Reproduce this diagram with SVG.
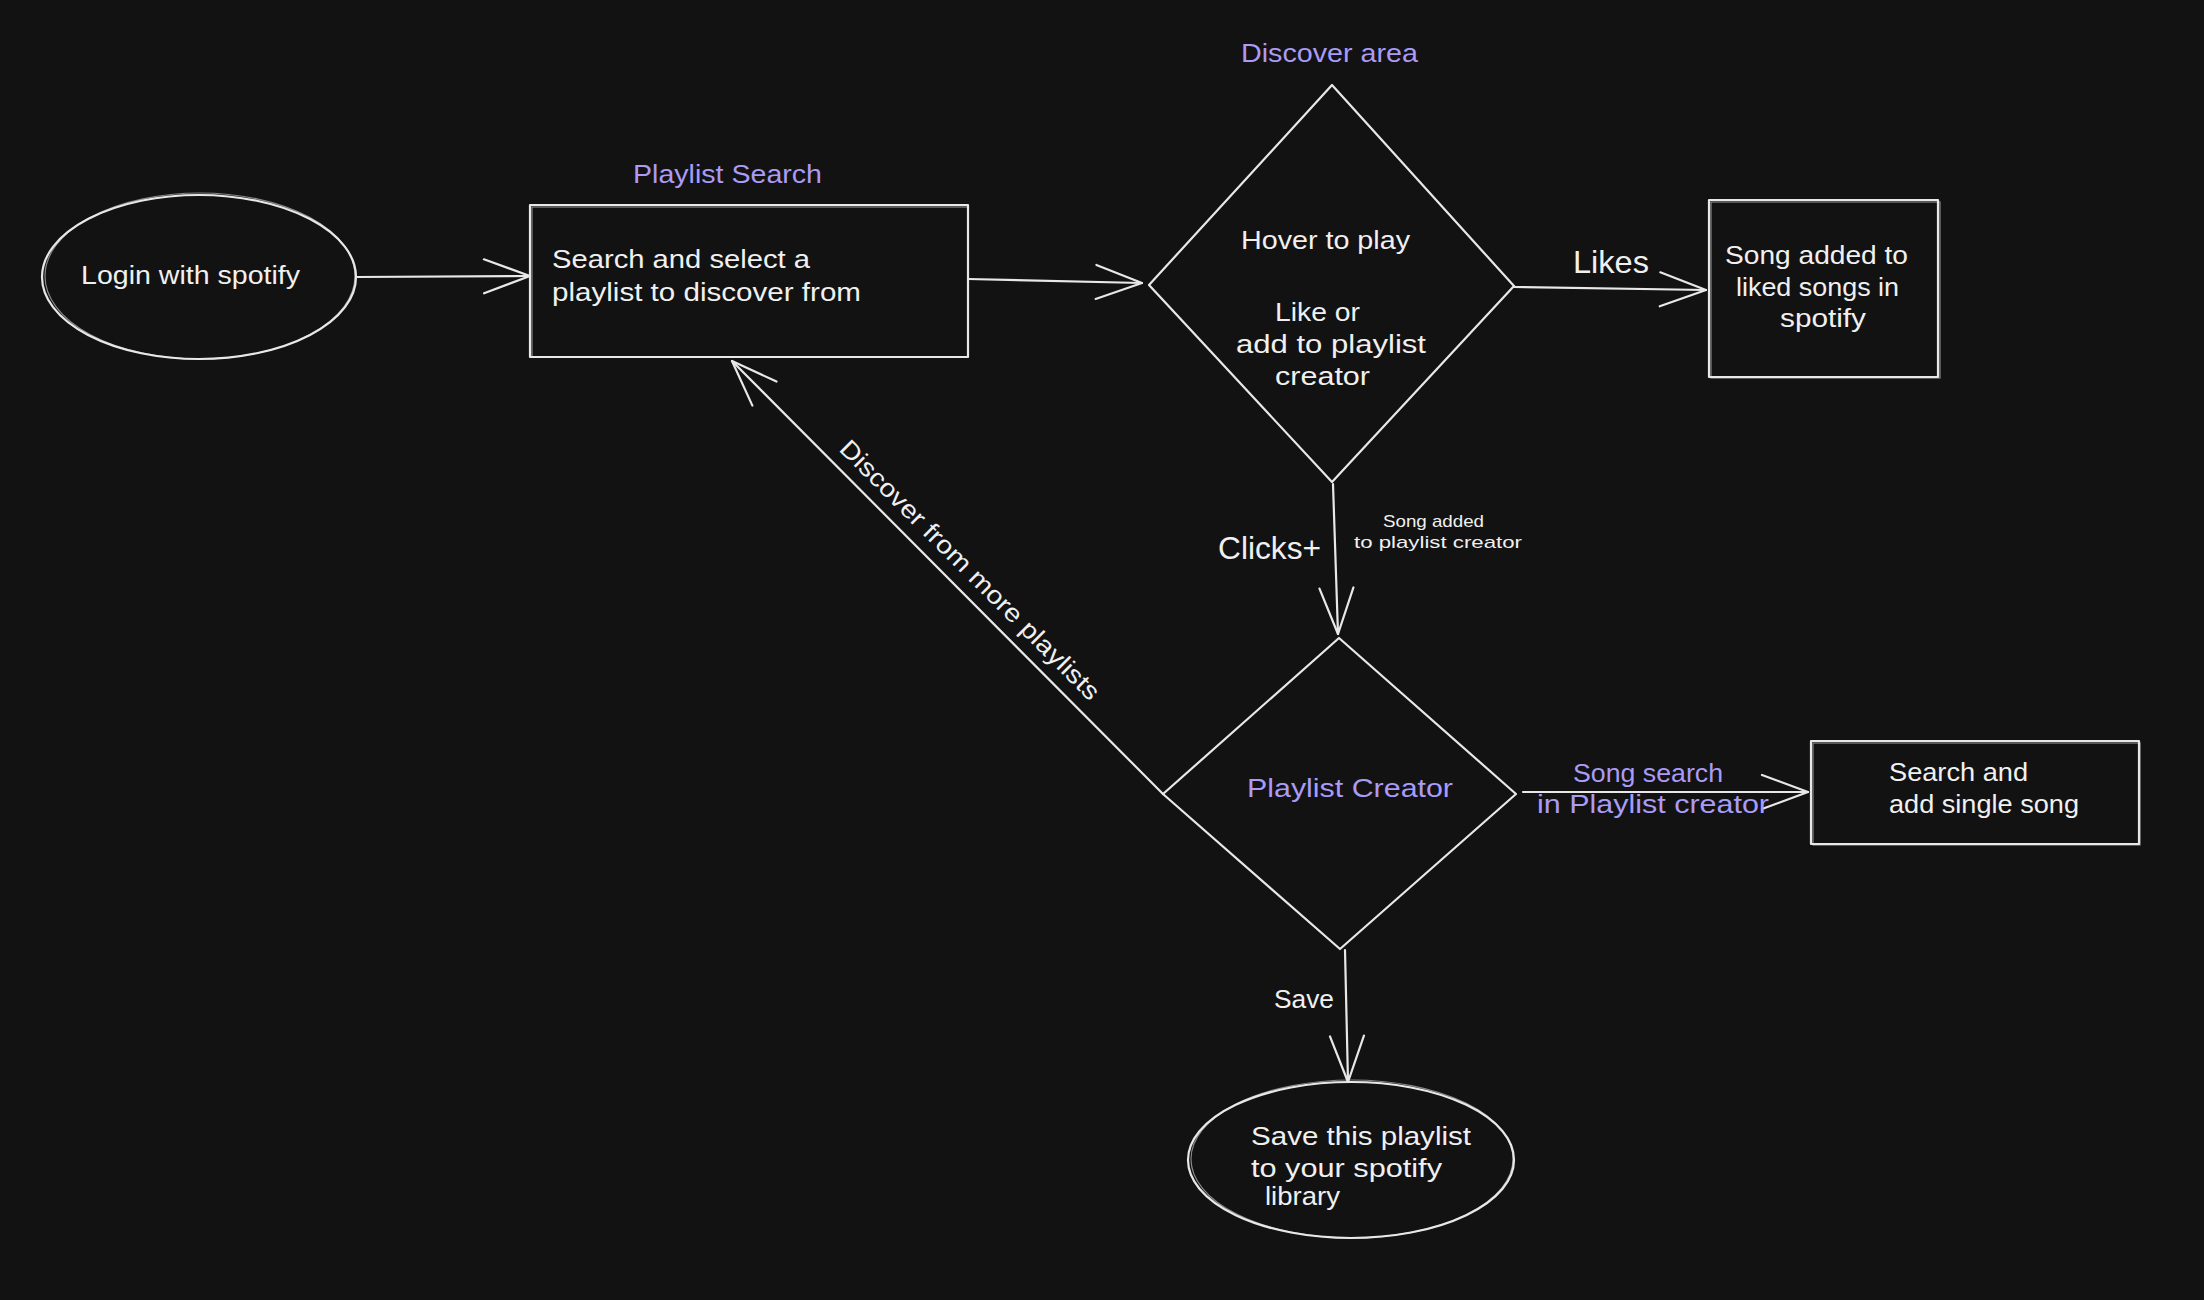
<svg xmlns="http://www.w3.org/2000/svg" width="2204" height="1300" viewBox="0 0 2204 1300">
  <defs>
    <marker id="arrow" markerUnits="userSpaceOnUse" markerWidth="60" markerHeight="60" viewBox="-55 -30 60 60" refX="0" refY="0" orient="auto">
      <path d="M-46,-17 L0,0 L-46,17" fill="none" stroke="#e8e8e8" stroke-width="2.2" stroke-linecap="round" stroke-linejoin="round"/>
    </marker>
  </defs>
  <style>
    .shape { fill: none; stroke: #e8e8e8; stroke-width: 2.2; stroke-linejoin: round; }
    .sketch { fill: none; stroke: #e8e8e8; stroke-width: 1.2; opacity: 0.55; }
    .conn { fill: none; stroke: #e8e8e8; stroke-width: 2.2; stroke-linecap: round; marker-end: url(#arrow); }
    text { font-family: "Liberation Sans", "DejaVu Sans", sans-serif; fill: #f0f0f0; }
    .t { font-size: 25px; }
    .big { font-size: 32px; }
    .small { font-size: 17px; }
    .lbl { font-size: 26px; fill: #a99bf6; }
  </style>
  <rect width="2204" height="1300" fill="#121212"/>

  <g id="connectors">
    <path class="conn" d="M356,277 L530,276"/>
    <path class="conn" d="M968,279 L1142,283"/>
    <path class="conn" d="M1514,287 L1706,290"/>
    <path class="conn" d="M1333,484 L1338,634"/>
    <path class="conn" d="M1163,794 L732,361"/>
    <path class="conn" d="M1523,792 L1808,792"/>
    <path class="conn" d="M1345,950 L1348,1082"/>
    <text class="big" x="1573" y="273" textLength="76" lengthAdjust="spacingAndGlyphs">Likes</text>
    <text class="big" x="1218" y="559" textLength="103" lengthAdjust="spacingAndGlyphs">Clicks+</text>
    <text class="small" x="1383" y="527" textLength="101" lengthAdjust="spacingAndGlyphs">Song added</text>
    <text class="small" x="1354" y="548" textLength="168" lengthAdjust="spacingAndGlyphs">to playlist creator</text>
    <text class="t" transform="translate(838,450) rotate(45)" x="0" y="0" textLength="356" lengthAdjust="spacingAndGlyphs">Discover from more playlists</text>
    <text class="lbl" x="1573" y="782" textLength="150" lengthAdjust="spacingAndGlyphs">Song search</text>
    <text class="lbl" x="1537" y="813" textLength="232" lengthAdjust="spacingAndGlyphs">in Playlist creator</text>
    <text class="t" x="1274" y="1008" textLength="60" lengthAdjust="spacingAndGlyphs">Save</text>
  </g>

  <g id="login">
    <ellipse class="shape" cx="199" cy="277" rx="157" ry="82"/>
    <ellipse class="sketch" cx="200" cy="276" rx="155" ry="83"/>
    <text class="t" x="81" y="284" textLength="219" lengthAdjust="spacingAndGlyphs">Login with spotify</text>
  </g>

  <g id="playlist-search">
    <text class="lbl" x="633" y="183" textLength="189" lengthAdjust="spacingAndGlyphs">Playlist Search</text>
    <rect class="shape" x="530" y="205" width="438" height="152"/>
    <rect class="sketch" x="532" y="207" width="436" height="150"/>
    <text class="t" x="552" y="268" textLength="258" lengthAdjust="spacingAndGlyphs">Search and select a</text>
    <text class="t" x="552" y="301" textLength="309" lengthAdjust="spacingAndGlyphs">playlist to discover from</text>
  </g>

  <g id="discover-area">
    <text class="lbl" x="1241" y="62" textLength="177" lengthAdjust="spacingAndGlyphs">Discover area</text>
    <polygon class="shape" points="1332,85 1514,286 1332,482 1149,285"/>
    <text class="t" x="1241" y="249" textLength="169" lengthAdjust="spacingAndGlyphs">Hover to play</text>
    <text class="t" x="1275" y="321" textLength="85" lengthAdjust="spacingAndGlyphs">Like or</text>
    <text class="t" x="1236" y="353" textLength="190" lengthAdjust="spacingAndGlyphs">add to playlist</text>
    <text class="t" x="1275" y="385" textLength="95" lengthAdjust="spacingAndGlyphs">creator</text>
  </g>

  <g id="liked-songs">
    <rect class="shape" x="1709" y="200" width="229" height="177"/>
    <rect class="sketch" x="1711" y="202" width="229" height="176"/>
    <text class="t" x="1725" y="264" textLength="183" lengthAdjust="spacingAndGlyphs">Song added to</text>
    <text class="t" x="1736" y="296" textLength="163" lengthAdjust="spacingAndGlyphs">liked songs in</text>
    <text class="t" x="1780" y="327" textLength="86" lengthAdjust="spacingAndGlyphs">spotify</text>
  </g>

  <g id="playlist-creator">
    <polygon class="shape" points="1339,638 1516,794 1340,949 1163,794"/>
    <text class="lbl" x="1247" y="797" textLength="206" lengthAdjust="spacingAndGlyphs">Playlist Creator</text>
  </g>

  <g id="single-song">
    <rect class="shape" x="1811" y="741" width="328" height="103"/>
    <rect class="sketch" x="1813" y="743" width="327" height="102"/>
    <text class="t" x="1889" y="781" textLength="139" lengthAdjust="spacingAndGlyphs">Search and</text>
    <text class="t" x="1889" y="813" textLength="190" lengthAdjust="spacingAndGlyphs">add single song</text>
  </g>

  <g id="save-library">
    <ellipse class="shape" cx="1351" cy="1160" rx="163" ry="78"/>
    <ellipse class="sketch" cx="1352" cy="1159" rx="161" ry="79"/>
    <text class="t" x="1251" y="1145" textLength="220" lengthAdjust="spacingAndGlyphs">Save this playlist</text>
    <text class="t" x="1251" y="1177" textLength="191" lengthAdjust="spacingAndGlyphs">to your spotify</text>
    <text class="t" x="1265" y="1205" textLength="75" lengthAdjust="spacingAndGlyphs">library</text>
  </g>
</svg>
